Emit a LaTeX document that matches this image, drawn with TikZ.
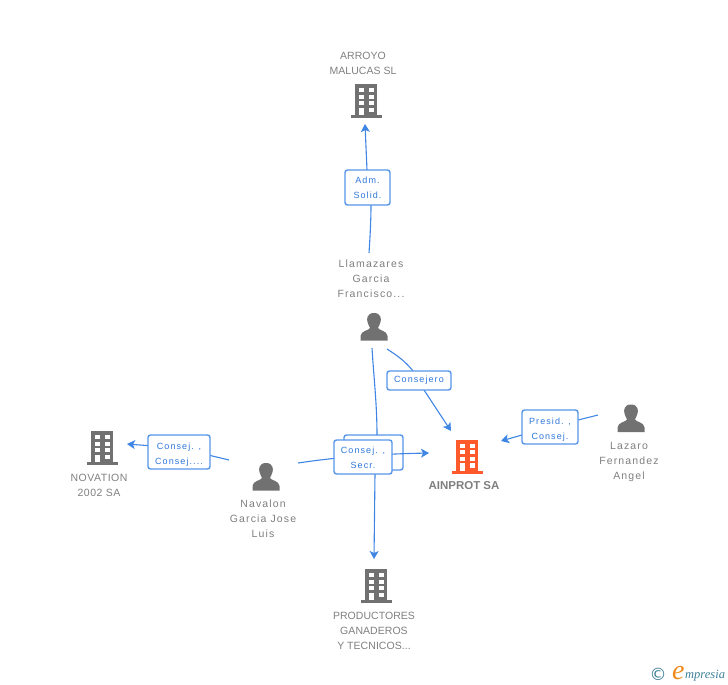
\documentclass[tikz,border=0pt]{standalone}
\usepackage{fontspec}
\setmainfont{Liberation Sans}
\newfontfamily\capfont[LetterSpace=0.5]{Liberation Sans}
\newfontfamily\lowfont[LetterSpace=11]{Liberation Sans}
\newfontfamily\midfont[LetterSpace=5]{Liberation Sans}
\newfontfamily\tagfont[LetterSpace=12]{Liberation Sans}
\newfontfamily\logofont{DejaVu Sans}
\newfontfamily\logoserif{Liberation Serif}
\usetikzlibrary{arrows.meta}
\definecolor{txtgray}{HTML}{7F7F7F}
\definecolor{icongray}{HTML}{717171}
\definecolor{linkblue}{HTML}{3F86E4}
\definecolor{tagborder}{HTML}{5596E9}
\definecolor{tagtext}{HTML}{2F77DC}
\definecolor{orangeicon}{HTML}{FF5A2B}
\definecolor{logoteal}{HTML}{3D7F98}
\definecolor{logoorange}{HTML}{F08A1D}
\newcommand{\tagdrop}[1]{\rule{0pt}{#1}}
\tikzset{
  x=1pt,y=-1pt,
  ent/.style={align=center,text=txtgray,inner sep=0pt},
  capsent/.style={ent,font=\capfont\fontsize{10.5}{15.2}\selectfont},
  midsent/.style={ent,font=\midfont\fontsize{10.5}{15.2}\selectfont},
  lowsent/.style={ent,font=\lowfont\fontsize{10.5}{15.2}\selectfont},
  tag/.style={draw=tagborder,line width=1.4pt,rounded corners=2.5pt,fill=white,align=center,text=tagtext,
     font=\tagfont\fontsize{9}{15}\selectfont,inner sep=0pt},
  link/.style={draw=linkblue,line width=1.1pt},
  arr/.style={link,-{Stealth[length=8pt,width=9pt,inset=2pt]}},
  pics/building/.style={code={
    \fill[#1] (-10.7,-17) rectangle (11,14);
    \fill[#1] (-15.5,14) rectangle (16,17);
    \foreach \yy in {-13,-6.4,0.2}{
      \fill[white] (-7.4,\yy) rectangle (-2.2,\yy+4.2);
      \fill[white] (2.6,\yy) rectangle (7.8,\yy+4.2);}
    \fill[white] (-7.4,6.8) rectangle (-2.2,14);
    \fill[white] (2.6,6.8) rectangle (7.8,11);
  }},
  pics/person/.style={code={
    \fill[icongray] (0,-14) .. controls (-7,-14) and (-7.5,-8) .. (-6.5,-5)
      .. controls (-6,-2) and (-4.5,-1) .. (-4,1) .. controls (-5,3.5) and (-13,3.5) .. (-13.5,9)
      -- (-13.5,13.5) -- (13.5,13.5) -- (13.5,9)
      .. controls (13,3.5) and (5,3.5) .. (4,1) .. controls (4.5,-1) and (6,-2) .. (6.5,-5)
      .. controls (7.5,-8) and (7,-14) .. (0,-14) -- cycle;
  }},
}
\begin{document}
\begin{tikzpicture}
\useasboundingbox (0,0) rectangle (728,685);
% text labels
\node[capsent] (arroyo) at (363,63) {ARROYO\\MALUCAS SL};
\node[lowsent] (llama) at (371,279) {Llamazares\\Garcia\\Francisco...};
\node[midsent] (nova) at (99,485) {NOVATION\\2002 SA};
\node[lowsent] (nava) at (263,519) {Navalon\\Garcia Jose\\Luis};
\node[lowsent] (lazaro) at (629,462) {Lazaro\\Fernandez\\Angel};
\node[capsent] (prod) at (374,631) {PRODUCTORES\\GANADEROS\\Y TECNICOS...};
\node[align=center,text=txtgray,inner sep=0pt,font=\fontsize{11.5}{14}\selectfont\bfseries] (ainprot) at (464,486) {AINPROT SA};
% icons
\pic at (366,101) {building=icongray};
\pic at (102,448) {building=icongray};
\pic at (376,586) {building=icongray};
\pic at (467,456.5) {building=orangeicon};
\pic at (374,327) {person};
\pic at (266,477) {person};
\pic at (631,418.5) {person};
% connector end points
\coordinate (arroyoIn) at (365,124);
\coordinate (llamaUp) at (369,253);
\coordinate (llamaDown) at (372,348);
\coordinate (llamaRight) at (387,349);
\coordinate (ainTop) at (451,431);
\coordinate (ainLeft) at (429,453);
\coordinate (ainRight) at (501,441);
\coordinate (lazOut) at (598,415);
\coordinate (navaL) at (229,460);
\coordinate (navaR) at (298,463);
\coordinate (novaIn) at (127,444);
\coordinate (prodIn) at (374,559);
% connectors behind their tags
\node[tag,minimum width=59pt,minimum height=35pt] (tB) at (373.5,452.5) {};
\draw[link] (llamaDown) .. controls (374,380) and (377,405) .. (377,435);
\draw[arr] (navaR) .. controls (345,456) and (385,454) .. (ainLeft);
\draw[link] (llamaUp) .. controls (370,238) and (371,220) .. (371,205);
\draw[arr] (367,170) -- (arroyoIn);
\draw[link] (llamaRight) .. controls (398,356) and (406,362) .. (413,371);
\draw[arr] (424,390) -- (ainTop);
\draw[arr] (lazOut) -- (550,427) -- (ainRight);
\draw[arr] (navaL) -- (179,448) -- (novaIn);
\draw[arr] (375,474) -- (prodIn);
% tags
\node[tag,minimum width=45pt,minimum height=35pt] (tA) at (367.5,187.5) {Adm.\\Solid.};
\node[tag,minimum width=64pt,minimum height=19pt] (tC) at (419,380.5) {Consejero};
\node[tag,minimum width=56pt,minimum height=34pt] (tP) at (550,427) {\tagdrop{12pt}Presid. ,\\Consej.};
\node[tag,minimum width=62pt,minimum height=34pt] (tN) at (179,452) {\tagdrop{12pt}Consej. ,\\Consej....};
\node[tag,minimum width=58pt,minimum height=34pt] (tS) at (363,457) {\tagdrop{9pt}Consej. ,\\Secr.};
% logo
\node[inner sep=0pt,text=logoteal,font=\logofont\fontsize{17}{17}\selectfont] (copy) at (658,674) {©};
\node[inner sep=0pt,anchor=base west,text=logoorange,font=\logoserif\fontsize{28}{28}\selectfont\itshape] (logoE) at (672,679) {e};
\node[inner sep=0pt,anchor=base west,text=logoteal,font=\logoserif\fontsize{12.5}{14}\selectfont\itshape] (logoT) at (685,678) {mpresia};
\end{tikzpicture}
\end{document}
